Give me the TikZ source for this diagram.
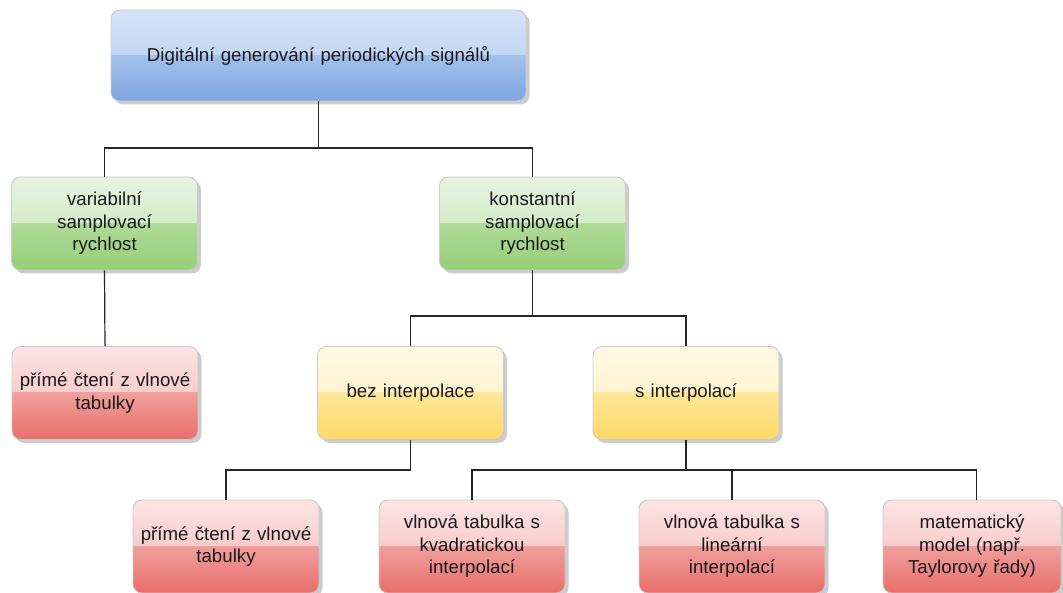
\documentclass[tikz,border=0pt]{standalone}
\usepackage{fontspec}
\setmainfont{Liberation Sans}
\usetikzlibrary{shadows}
\definecolor{blueA}{HTML}{D4E3F7}
\definecolor{blueB}{HTML}{B3CCEF}
\definecolor{blueC}{HTML}{A3C0EC}
\definecolor{blueD}{HTML}{7EA6E0}
\definecolor{greenA}{HTML}{E7F4E0}
\definecolor{greenB}{HTML}{C3E3B2}
\definecolor{greenC}{HTML}{AFDA97}
\definecolor{greenD}{HTML}{97CF79}
\definecolor{redA}{HTML}{FCE4E4}
\definecolor{redB}{HTML}{F3B6B4}
\definecolor{redC}{HTML}{F09F9C}
\definecolor{redD}{HTML}{E86E6A}
\definecolor{yelA}{HTML}{FFF9E4}
\definecolor{yelB}{HTML}{FFF0C0}
\definecolor{yelC}{HTML}{FFE79A}
\definecolor{yelD}{HTML}{FFD966}
\begin{document}
\begin{tikzpicture}[x=1pt,y=-1pt,
  glossbox/.style n args={4}{rounded corners=9pt, draw=black!20, line width=0.8pt,
    minimum width=186pt, minimum height=93pt, inner sep=2pt, align=center,
    text width=178pt, font=\fontsize{18.7}{22.5}\selectfont, text=black!90,
    drop shadow={shadow xshift=3.5pt, shadow yshift=-3.5pt, opacity=0.3, fill=black!65},
    path picture={
      \fill[sharp corners, top color=#1, bottom color=#2]
        (path picture bounding box.north west) rectangle (path picture bounding box.east);
      \fill[sharp corners, top color=#3, bottom color=#4]
        (path picture bounding box.west) rectangle (path picture bounding box.south east);}},
  bluebox/.style={glossbox={blueA}{blueB}{blueC}{blueD}},
  greenbox/.style={glossbox={greenA}{greenB}{greenC}{greenD}},
  redbox/.style={glossbox={redA}{redB}{redC}{redD}},
  yellowbox/.style={glossbox={yelA}{yelB}{yelC}{yelD}},
  link/.style={draw=black!85, line width=1.2pt}]
\useasboundingbox[fill=white] (0,0) rectangle (1063,593);

\node[bluebox, minimum width=415pt, minimum height=91pt, text width=405pt] (top) at (318.5,55.5)
  {Digitální generování periodických signálů};
\node[greenbox] (gL) at (104.5,223.5) {variabilní\\samplovací\\rychlost};
\node[greenbox] (gR) at (532.5,223.5) {konstantní\\samplovací\\rychlost};
\node[redbox] (rL) at (105,393) {přímé čtení z vlnové\\tabulky};
\node[yellowbox] (yL) at (410.5,393) {bez interpolace};
\node[yellowbox] (yR) at (686,393) {s interpolací};
\node[redbox] (b1) at (226,546.5) {přímé čtení z vlnové\\tabulky};
\node[redbox] (b2) at (472,546.5) {vlnová tabulka s\\kvadratickou\\interpolací};
\node[redbox] (b3) at (732,546.5) {vlnová tabulka s\\lineární\\interpolací};
\node[redbox, minimum width=178pt, text width=170pt] (b4) at (972,546.5) {matematický\\model (např.\\Taylorovy řady)};

\coordinate (j1) at (318.5,148);
\coordinate (j2) at (532.5,316);
\coordinate (j3) at (410.5,470);
\coordinate (j4) at (686,470);
\coordinate (b4top) at ([xshift=4.5pt]b4.north);

\draw[link] (top.south) -- (j1);
\draw[link] (gL.north) |- (j1) -| (gR.north);
\draw[link] (gL.south) -- (rL.north);
\draw[link] (gR.south) -- (j2);
\draw[link] (yL.north) |- (j2) -| (yR.north);
\draw[link] (yL.south) -- (j3);
\draw[link] (b1.north) |- (j3);
\draw[link] (yR.south) -- (j4);
\draw[link] (b2.north) |- (j4) -| (b4top);
\draw[link] (b3.north) -- (b3.north |- j4);
\end{tikzpicture}
\end{document}
